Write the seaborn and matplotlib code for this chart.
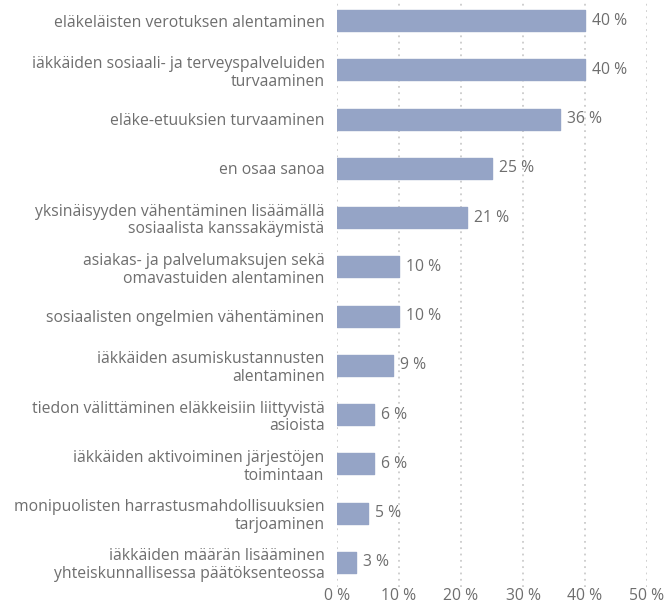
import matplotlib
matplotlib.use("Agg")
import matplotlib.pyplot as plt
import seaborn as sns
import pandas as pd

categories = [
    "eläkeläisten verotuksen alentaminen",
    "iäkkäiden sosiaali- ja terveyspalveluiden\nturvaaminen",
    "eläke-etuuksien turvaaminen",
    "en osaa sanoa",
    "yksinäisyyden vähentäminen lisäämällä\nsosiaalista kanssakäymistä",
    "asiakas- ja palvelumaksujen sekä\nomavastuiden alentaminen",
    "sosiaalisten ongelmien vähentäminen",
    "iäkkäiden asumiskustannusten\nalentaminen",
    "tiedon välittäminen eläkkeisiin liittyvistä\nasioista",
    "iäkkäiden aktivoiminen järjestöjen\ntoimintaan",
    "monipuolisten harrastusmahdollisuuksien\ntarjoaminen",
    "iäkkäiden määrän lisääminen\nyhteiskunnallisessa päätöksenteossa",
]
values = [40, 40, 36, 25, 21, 10, 10, 9, 6, 6, 5, 3]
x_ticks = [0, 10, 20, 30, 40, 50]
x_tick_labels = ["0 %", "10 %", "20 %", "30 %", "40 %", "50 %"]

df = pd.DataFrame({"category": categories, "value": values})

sns.set_theme(style="white")
plt.rcParams["font.family"] = ["Open Sans", "DejaVu Sans"]

text_color = "#6e6e6e"
bar_color = "#95a4c6"
fs = 11.3

fig = plt.figure(figsize=(6.67, 6.05), dpi=100)
ax = fig.add_axes([337 / 667, 18 / 605, 310 / 667, 591 / 605])

sns.barplot(data=df, x="value", y="category", orient="h", color=bar_color,
            width=0.43, saturation=1, ax=ax, zorder=3)
for p in ax.patches:
    p.set_edgecolor(bar_color)
    p.set_linewidth(1.0)
    p.set_joinstyle("round")

ax.set_xlim(0, 50)
ax.set_ylim(len(categories) - 0.5, -0.5)
ax.set_xticks(x_ticks)
ax.set_xticklabels(x_tick_labels, color=text_color, fontsize=fs)
ax.set_yticks(range(len(categories)))
ax.set_yticklabels(categories, color=text_color, fontsize=fs,
                   linespacing=1.15, ha="right")
ax.tick_params(axis="y", length=0, pad=9)
ax.tick_params(axis="x", length=0, pad=1)
ax.set_xlabel("")
ax.set_ylabel("")

for x in x_ticks:
    ax.axvline(x, color="#cccccc", linestyle=(0, (1, 2.5)), linewidth=1.3, zorder=1)

for spine in ax.spines.values():
    spine.set_visible(False)

for i, v in enumerate(values):
    ax.annotate(f"{v} %", xy=(v, i), xytext=(5, 0), textcoords="offset points",
                va="center", ha="left", color=text_color, fontsize=fs)

fig.savefig("out.png", dpi=100)
